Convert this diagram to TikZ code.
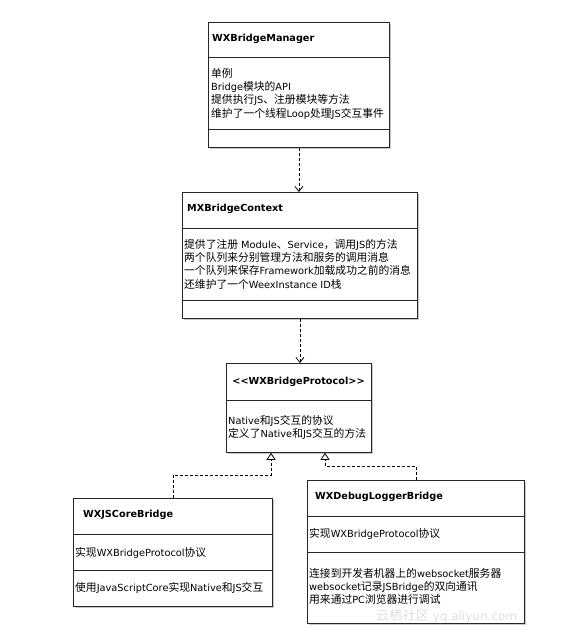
\documentclass[tikz,border=0pt]{standalone}
\usepackage{fontspec}
\setmainfont{DejaVu Sans}
\newfontfamily\zhfont[Scale=1.1]{Noto Sans CJK SC}
\newcommand{\zh}[1]{{\zhfont #1}}
\usetikzlibrary{arrows.meta,shadows}
\tikzset{
  umlbox/.style={draw=black!85, line width=0.8pt, fill=white, inner sep=0pt,
    anchor=north west, drop shadow={shadow xshift=1.5pt, shadow yshift=-1.5pt, fill=black!35, opacity=0.6}},
  sep/.style={draw=black!85, line width=0.8pt},
  title/.style={font=\fontsize{9.7}{12}\selectfont\bfseries, anchor=west, inner sep=0pt},
  body/.style={font=\fontsize{9.8}{13.3}\selectfont, align=left, anchor=north west, inner sep=0pt},
  dep/.style={draw=black, line width=0.8pt, dashed, dash pattern=on 3pt off 2pt, -{Straight Barb[length=5pt,width=8pt,line width=0.8pt]}},
  real/.style={draw=black, line width=0.8pt, dashed, dash pattern=on 3pt off 2pt, -{Triangle[open,length=7pt,width=9pt,line width=0.8pt,fill=white]}},
  wm/.style={font=\fontsize{12}{14}\selectfont, text=black!12, anchor=west, inner sep=0pt}
}
\begin{document}
\begin{tikzpicture}[x=1pt,y=-1pt]
\useasboundingbox[fill=white] (0,0) rectangle (574,636);

% Box 1
\node[umlbox, minimum width=181pt, minimum height=125pt] (mgr) at (208,22) {};
\draw[sep] (208,57) -- (389,57);
\draw[sep] (208,129) -- (389,129);
\node[title] (mgrT) at (212,39) {WXBridgeManager};
\node[body] (mgrB) at (211,68) {\zh{单例}\\Bridge\zh{模块的}API\\\zh{提供执行}JS\zh{、注册模块等方法}\\\zh{维护了一个线程}Loop\zh{处理}JS\zh{交互事件}};

% Box 2
\node[umlbox, minimum width=235pt, minimum height=126pt] (ctx) at (182,192) {};
\draw[sep] (182,228) -- (417,228);
\draw[sep] (182,300) -- (417,300);
\node[title] (ctxT) at (187,209) {MXBridgeContext};
\node[body] (ctxB) at (184,239) {\zh{提供了注册} Module\zh{、}Service\zh{，调用}JS\zh{的方法}\\\zh{两个队列来分别管理方法和服务的调用消息}\\\zh{一个队列来保存}Framework\zh{加载成功之前的消息}\\\zh{还维护了一个}WeexInstance ID\zh{栈}};

% Box 3
\node[umlbox, minimum width=145pt, minimum height=89pt] (proto) at (226,363) {};
\draw[sep] (226,400) -- (371,400);
\node[title, anchor=center] (protoT) at (298.5,382) {<{}<WXBridgeProtocol>{}>};
\node[body] (protoB) at (228,415) {Native\zh{和}JS\zh{交互的协议}\\\zh{定义了}Native\zh{和}JS\zh{交互的方法}};

% Box 4
\node[umlbox, minimum width=199pt, minimum height=108pt] (js) at (73,498) {};
\draw[sep] (73,534) -- (272,534);
\draw[sep] (73,570) -- (272,570);
\node[title] (jsT) at (83,515) {WXJSCoreBridge};
\node[body] (jsB1) at (75,547) {\zh{实现}WXBridgeProtocol\zh{协议}};
\node[body] (jsB2) at (75,582) {\zh{使用}JavaScriptCore\zh{实现}Native\zh{和}JS\zh{交互}};

% Box 5
\node[umlbox, minimum width=217pt, minimum height=143pt] (dbg) at (307,480) {};
\draw[sep] (307,516) -- (524,516);
\draw[sep] (307,552) -- (524,552);
\node[title] (dbgT) at (315,497) {WXDebugLoggerBridge};
\node[body] (dbgB1) at (309,528) {\zh{实现}WXBridgeProtocol\zh{协议}};
\node[body] (dbgB2) at (309,568) {\zh{连接到开发者机器上的}websocket\zh{服务器}\\websocket\zh{记录}JSBridge\zh{的双向通讯}\\\zh{用来通过}PC\zh{浏览器进行调试}};

% Connectors
\draw[dep] (mgr.south) -- (mgr.south |- ctx.north);
\draw[dep] (ctx.south) -- (ctx.south |- proto.north);
\coordinate (j1) at (271,475);
\coordinate (d1) at (325,466);
\draw[real] (js.north) |- (j1) -- (proto.south -| j1);
\draw[real] (dbg.north) |- (d1) -- (proto.south -| d1);

% Watermark
\node[wm] (wmark) at (376,616) {\zh{云栖社区} yq.aliyun.com};
\end{tikzpicture}
\end{document}
